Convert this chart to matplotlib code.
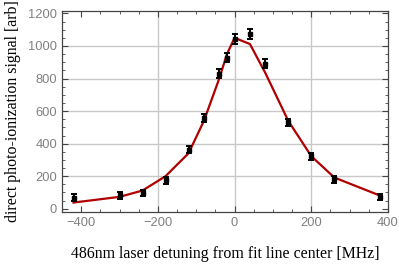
import matplotlib.pyplot as plt
import numpy as np

# measured detuning points [MHz]
detuning = [-420, -300, -240, -180, -120, -80, -40, -20, 0, 40, 80, 140, 200, 260, 380]
signal = [68, 82, 98, 175, 362, 557, 830, 928, 1045, 1075, 890, 530, 322, 180, 73]
sig_err = [22, 20, 20, 20, 22, 25, 28, 28, 30, 30, 28, 22, 20, 20, 20]
# fit evaluated at the same detunings
fit = [38, 73, 112, 200, 341, 540, 800, 950, 1050, 1012, 835, 540, 323, 192, 80]

fig = plt.figure(figsize=(3.99, 2.65), dpi=100)
ax = fig.add_axes([0.1554, 0.2, 0.817, 0.7585])

# grid lines like the original frame
for gx in [-200, 0, 200]:
    ax.axvline(gx, color='#c8c8c8', lw=1.0, zorder=0)
for gy in [200, 400, 600, 800, 1000]:
    ax.axhline(gy, color='#c8c8c8', lw=1.0, zorder=0)

ax.plot(detuning, fit, color='#b00000', lw=1.6, zorder=2)
ax.errorbar(detuning, signal, yerr=sig_err, fmt='s', color='black', ms=3.2,
            ecolor='black', elinewidth=1.4, capsize=2.4, capthick=1.4, zorder=3)

ax.set_xlim(-450, 400)
ax.set_ylim(-20, 1215)
ax.set_xticks([-400, -200, 0, 200, 400])
ax.set_yticks([0, 200, 400, 600, 800, 1000, 1200])
ax.set_xticks(np.arange(-450, 401, 50), minor=True)
ax.set_yticks(np.arange(0, 1201, 50), minor=True)

ax.tick_params(which='both', direction='in', top=True, right=True,
               color='#444444', labelcolor='#808080', labelsize=9.3)
ax.tick_params(which='major', length=4, width=0.8)
ax.tick_params(which='minor', length=2, width=0.6)
for lab in ax.get_xticklabels() + ax.get_yticklabels():
    lab.set_family('Liberation Sans')
for s in ax.spines.values():
    s.set_color('#444444')
    s.set_linewidth(0.9)

ax.set_xlabel('486nm laser detuning from fit line center [MHz]',
              family='Liberation Serif', fontsize=11.4, labelpad=12)
ax.set_ylabel('direct photo-ionization signal [arb]',
              family='Liberation Serif', fontsize=11.4, labelpad=5)

fig.savefig('out.png', dpi=100)
